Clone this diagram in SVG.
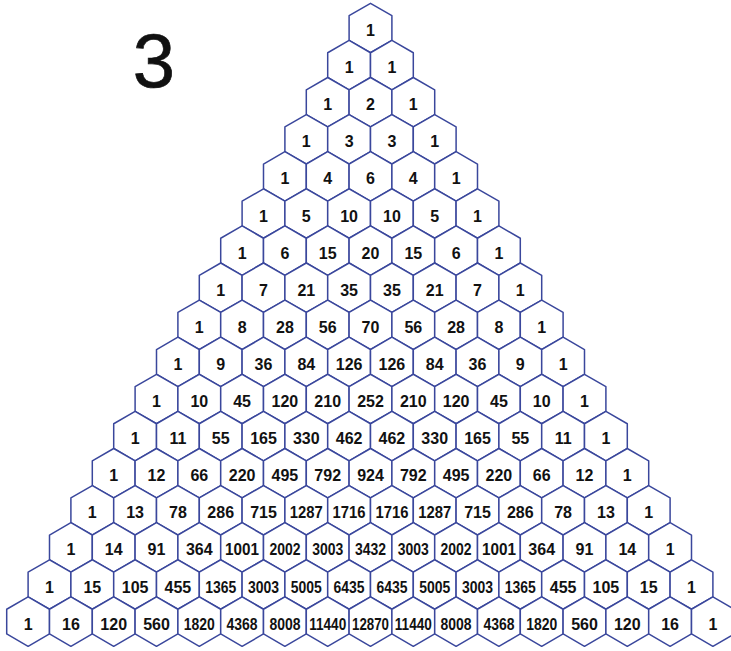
<svg xmlns="http://www.w3.org/2000/svg" xmlns:xlink="http://www.w3.org/1999/xlink" width="731" height="651" viewBox="0 0 731 651">
<style>
.hx{fill:#ffffff;stroke:#3a479c;stroke-width:1.5;stroke-linejoin:round}
text{font-family:"Liberation Sans",Arial,sans-serif;font-weight:bold;font-size:16px;text-anchor:middle;fill:#111}
text.m{font-size:16.5px}
text.s{font-size:16.5px}
text.x{font-size:16px}
text.big{font-weight:normal;font-size:76px;stroke:#111;stroke-width:0.7}
</style>
<defs>
<polygon id="h" class="hx" points="0,-24.7 21.4,-12.35 21.4,12.35 0,24.7 -21.4,12.35 -21.4,-12.35"/>
</defs>
<rect width="731" height="651" fill="#ffffff"/>
<text class="big" x="154" y="87">3</text>
<g id="connectors"></g>
<g id="nodes">
<g id="n0_0" transform="translate(370.5,28)"><use href="#h"/><text y="8">1</text></g>
<g id="n1_0" transform="translate(349.1,65.1)"><use href="#h"/><text y="8">1</text></g>
<g id="n1_1" transform="translate(391.9,65.1)"><use href="#h"/><text y="8">1</text></g>
<g id="n2_0" transform="translate(327.7,102.2)"><use href="#h"/><text y="8">1</text></g>
<g id="n2_1" transform="translate(370.5,102.2)"><use href="#h"/><text y="8">2</text></g>
<g id="n2_2" transform="translate(413.3,102.2)"><use href="#h"/><text y="8">1</text></g>
<g id="n3_0" transform="translate(306.3,139.3)"><use href="#h"/><text y="8">1</text></g>
<g id="n3_1" transform="translate(349.1,139.3)"><use href="#h"/><text y="8">3</text></g>
<g id="n3_2" transform="translate(391.9,139.3)"><use href="#h"/><text y="8">3</text></g>
<g id="n3_3" transform="translate(434.7,139.3)"><use href="#h"/><text y="8">1</text></g>
<g id="n4_0" transform="translate(284.9,176.4)"><use href="#h"/><text y="8">1</text></g>
<g id="n4_1" transform="translate(327.7,176.4)"><use href="#h"/><text y="8">4</text></g>
<g id="n4_2" transform="translate(370.5,176.4)"><use href="#h"/><text y="8">6</text></g>
<g id="n4_3" transform="translate(413.3,176.4)"><use href="#h"/><text y="8">4</text></g>
<g id="n4_4" transform="translate(456.1,176.4)"><use href="#h"/><text y="8">1</text></g>
<g id="n5_0" transform="translate(263.5,213.5)"><use href="#h"/><text y="8">1</text></g>
<g id="n5_1" transform="translate(306.3,213.5)"><use href="#h"/><text y="8">5</text></g>
<g id="n5_2" transform="translate(349.1,213.5)"><use href="#h"/><text y="8">10</text></g>
<g id="n5_3" transform="translate(391.9,213.5)"><use href="#h"/><text y="8">10</text></g>
<g id="n5_4" transform="translate(434.7,213.5)"><use href="#h"/><text y="8">5</text></g>
<g id="n5_5" transform="translate(477.5,213.5)"><use href="#h"/><text y="8">1</text></g>
<g id="n6_0" transform="translate(242.1,250.6)"><use href="#h"/><text y="8">1</text></g>
<g id="n6_1" transform="translate(284.9,250.6)"><use href="#h"/><text y="8">6</text></g>
<g id="n6_2" transform="translate(327.7,250.6)"><use href="#h"/><text y="8">15</text></g>
<g id="n6_3" transform="translate(370.5,250.6)"><use href="#h"/><text y="8">20</text></g>
<g id="n6_4" transform="translate(413.3,250.6)"><use href="#h"/><text y="8">15</text></g>
<g id="n6_5" transform="translate(456.1,250.6)"><use href="#h"/><text y="8">6</text></g>
<g id="n6_6" transform="translate(498.9,250.6)"><use href="#h"/><text y="8">1</text></g>
<g id="n7_0" transform="translate(220.7,287.7)"><use href="#h"/><text y="8">1</text></g>
<g id="n7_1" transform="translate(263.5,287.7)"><use href="#h"/><text y="8">7</text></g>
<g id="n7_2" transform="translate(306.3,287.7)"><use href="#h"/><text y="8">21</text></g>
<g id="n7_3" transform="translate(349.1,287.7)"><use href="#h"/><text y="8">35</text></g>
<g id="n7_4" transform="translate(391.9,287.7)"><use href="#h"/><text y="8">35</text></g>
<g id="n7_5" transform="translate(434.7,287.7)"><use href="#h"/><text y="8">21</text></g>
<g id="n7_6" transform="translate(477.5,287.7)"><use href="#h"/><text y="8">7</text></g>
<g id="n7_7" transform="translate(520.3,287.7)"><use href="#h"/><text y="8">1</text></g>
<g id="n8_0" transform="translate(199.3,324.8)"><use href="#h"/><text y="8">1</text></g>
<g id="n8_1" transform="translate(242.1,324.8)"><use href="#h"/><text y="8">8</text></g>
<g id="n8_2" transform="translate(284.9,324.8)"><use href="#h"/><text y="8">28</text></g>
<g id="n8_3" transform="translate(327.7,324.8)"><use href="#h"/><text y="8">56</text></g>
<g id="n8_4" transform="translate(370.5,324.8)"><use href="#h"/><text y="8">70</text></g>
<g id="n8_5" transform="translate(413.3,324.8)"><use href="#h"/><text y="8">56</text></g>
<g id="n8_6" transform="translate(456.1,324.8)"><use href="#h"/><text y="8">28</text></g>
<g id="n8_7" transform="translate(498.9,324.8)"><use href="#h"/><text y="8">8</text></g>
<g id="n8_8" transform="translate(541.7,324.8)"><use href="#h"/><text y="8">1</text></g>
<g id="n9_0" transform="translate(177.9,361.9)"><use href="#h"/><text y="8">1</text></g>
<g id="n9_1" transform="translate(220.7,361.9)"><use href="#h"/><text y="8">9</text></g>
<g id="n9_2" transform="translate(263.5,361.9)"><use href="#h"/><text y="8">36</text></g>
<g id="n9_3" transform="translate(306.3,361.9)"><use href="#h"/><text y="8">84</text></g>
<g id="n9_4" transform="translate(349.1,361.9)"><use href="#h"/><text y="8">126</text></g>
<g id="n9_5" transform="translate(391.9,361.9)"><use href="#h"/><text y="8">126</text></g>
<g id="n9_6" transform="translate(434.7,361.9)"><use href="#h"/><text y="8">84</text></g>
<g id="n9_7" transform="translate(477.5,361.9)"><use href="#h"/><text y="8">36</text></g>
<g id="n9_8" transform="translate(520.3,361.9)"><use href="#h"/><text y="8">9</text></g>
<g id="n9_9" transform="translate(563.1,361.9)"><use href="#h"/><text y="8">1</text></g>
<g id="n10_0" transform="translate(156.5,399)"><use href="#h"/><text y="8">1</text></g>
<g id="n10_1" transform="translate(199.3,399)"><use href="#h"/><text y="8">10</text></g>
<g id="n10_2" transform="translate(242.1,399)"><use href="#h"/><text y="8">45</text></g>
<g id="n10_3" transform="translate(284.9,399)"><use href="#h"/><text y="8">120</text></g>
<g id="n10_4" transform="translate(327.7,399)"><use href="#h"/><text y="8">210</text></g>
<g id="n10_5" transform="translate(370.5,399)"><use href="#h"/><text y="8">252</text></g>
<g id="n10_6" transform="translate(413.3,399)"><use href="#h"/><text y="8">210</text></g>
<g id="n10_7" transform="translate(456.1,399)"><use href="#h"/><text y="8">120</text></g>
<g id="n10_8" transform="translate(498.9,399)"><use href="#h"/><text y="8">45</text></g>
<g id="n10_9" transform="translate(541.7,399)"><use href="#h"/><text y="8">10</text></g>
<g id="n10_10" transform="translate(584.5,399)"><use href="#h"/><text y="8">1</text></g>
<g id="n11_0" transform="translate(135.1,436.1)"><use href="#h"/><text y="8">1</text></g>
<g id="n11_1" transform="translate(177.9,436.1)"><use href="#h"/><text y="8">11</text></g>
<g id="n11_2" transform="translate(220.7,436.1)"><use href="#h"/><text y="8">55</text></g>
<g id="n11_3" transform="translate(263.5,436.1)"><use href="#h"/><text y="8">165</text></g>
<g id="n11_4" transform="translate(306.3,436.1)"><use href="#h"/><text y="8">330</text></g>
<g id="n11_5" transform="translate(349.1,436.1)"><use href="#h"/><text y="8">462</text></g>
<g id="n11_6" transform="translate(391.9,436.1)"><use href="#h"/><text y="8">462</text></g>
<g id="n11_7" transform="translate(434.7,436.1)"><use href="#h"/><text y="8">330</text></g>
<g id="n11_8" transform="translate(477.5,436.1)"><use href="#h"/><text y="8">165</text></g>
<g id="n11_9" transform="translate(520.3,436.1)"><use href="#h"/><text y="8">55</text></g>
<g id="n11_10" transform="translate(563.1,436.1)"><use href="#h"/><text y="8">11</text></g>
<g id="n11_11" transform="translate(605.9,436.1)"><use href="#h"/><text y="8">1</text></g>
<g id="n12_0" transform="translate(113.7,473.2)"><use href="#h"/><text y="8">1</text></g>
<g id="n12_1" transform="translate(156.5,473.2)"><use href="#h"/><text y="8">12</text></g>
<g id="n12_2" transform="translate(199.3,473.2)"><use href="#h"/><text y="8">66</text></g>
<g id="n12_3" transform="translate(242.1,473.2)"><use href="#h"/><text y="8">220</text></g>
<g id="n12_4" transform="translate(284.9,473.2)"><use href="#h"/><text y="8">495</text></g>
<g id="n12_5" transform="translate(327.7,473.2)"><use href="#h"/><text y="8">792</text></g>
<g id="n12_6" transform="translate(370.5,473.2)"><use href="#h"/><text y="8">924</text></g>
<g id="n12_7" transform="translate(413.3,473.2)"><use href="#h"/><text y="8">792</text></g>
<g id="n12_8" transform="translate(456.1,473.2)"><use href="#h"/><text y="8">495</text></g>
<g id="n12_9" transform="translate(498.9,473.2)"><use href="#h"/><text y="8">220</text></g>
<g id="n12_10" transform="translate(541.7,473.2)"><use href="#h"/><text y="8">66</text></g>
<g id="n12_11" transform="translate(584.5,473.2)"><use href="#h"/><text y="8">12</text></g>
<g id="n12_12" transform="translate(627.3,473.2)"><use href="#h"/><text y="8">1</text></g>
<g id="n13_0" transform="translate(92.3,510.3)"><use href="#h"/><text y="8">1</text></g>
<g id="n13_1" transform="translate(135.1,510.3)"><use href="#h"/><text y="8">13</text></g>
<g id="n13_2" transform="translate(177.9,510.3)"><use href="#h"/><text y="8">78</text></g>
<g id="n13_3" transform="translate(220.7,510.3)"><use href="#h"/><text y="8">286</text></g>
<g id="n13_4" transform="translate(263.5,510.3)"><use href="#h"/><text y="8">715</text></g>
<g id="n13_5" transform="translate(306.3,510.3)"><use href="#h"/><text class="m" y="8" textLength="33" lengthAdjust="spacingAndGlyphs">1287</text></g>
<g id="n13_6" transform="translate(349.1,510.3)"><use href="#h"/><text class="m" y="8" textLength="33" lengthAdjust="spacingAndGlyphs">1716</text></g>
<g id="n13_7" transform="translate(391.9,510.3)"><use href="#h"/><text class="m" y="8" textLength="33" lengthAdjust="spacingAndGlyphs">1716</text></g>
<g id="n13_8" transform="translate(434.7,510.3)"><use href="#h"/><text class="m" y="8" textLength="33" lengthAdjust="spacingAndGlyphs">1287</text></g>
<g id="n13_9" transform="translate(477.5,510.3)"><use href="#h"/><text y="8">715</text></g>
<g id="n13_10" transform="translate(520.3,510.3)"><use href="#h"/><text y="8">286</text></g>
<g id="n13_11" transform="translate(563.1,510.3)"><use href="#h"/><text y="8">78</text></g>
<g id="n13_12" transform="translate(605.9,510.3)"><use href="#h"/><text y="8">13</text></g>
<g id="n13_13" transform="translate(648.7,510.3)"><use href="#h"/><text y="8">1</text></g>
<g id="n14_0" transform="translate(70.9,547.4)"><use href="#h"/><text y="8">1</text></g>
<g id="n14_1" transform="translate(113.7,547.4)"><use href="#h"/><text y="8">14</text></g>
<g id="n14_2" transform="translate(156.5,547.4)"><use href="#h"/><text y="8">91</text></g>
<g id="n14_3" transform="translate(199.3,547.4)"><use href="#h"/><text y="8">364</text></g>
<g id="n14_4" transform="translate(242.1,547.4)"><use href="#h"/><text class="m" y="8" textLength="34" lengthAdjust="spacingAndGlyphs">1001</text></g>
<g id="n14_5" transform="translate(284.9,547.4)"><use href="#h"/><text class="s" y="8" textLength="31" lengthAdjust="spacingAndGlyphs">2002</text></g>
<g id="n14_6" transform="translate(327.7,547.4)"><use href="#h"/><text class="s" y="8" textLength="31" lengthAdjust="spacingAndGlyphs">3003</text></g>
<g id="n14_7" transform="translate(370.5,547.4)"><use href="#h"/><text class="s" y="8" textLength="31" lengthAdjust="spacingAndGlyphs">3432</text></g>
<g id="n14_8" transform="translate(413.3,547.4)"><use href="#h"/><text class="s" y="8" textLength="31" lengthAdjust="spacingAndGlyphs">3003</text></g>
<g id="n14_9" transform="translate(456.1,547.4)"><use href="#h"/><text class="s" y="8" textLength="31" lengthAdjust="spacingAndGlyphs">2002</text></g>
<g id="n14_10" transform="translate(498.9,547.4)"><use href="#h"/><text class="m" y="8" textLength="34" lengthAdjust="spacingAndGlyphs">1001</text></g>
<g id="n14_11" transform="translate(541.7,547.4)"><use href="#h"/><text y="8">364</text></g>
<g id="n14_12" transform="translate(584.5,547.4)"><use href="#h"/><text y="8">91</text></g>
<g id="n14_13" transform="translate(627.3,547.4)"><use href="#h"/><text y="8">14</text></g>
<g id="n14_14" transform="translate(670.1,547.4)"><use href="#h"/><text y="8">1</text></g>
<g id="n15_0" transform="translate(49.5,584.5)"><use href="#h"/><text y="8">1</text></g>
<g id="n15_1" transform="translate(92.3,584.5)"><use href="#h"/><text y="8">15</text></g>
<g id="n15_2" transform="translate(135.1,584.5)"><use href="#h"/><text y="8">105</text></g>
<g id="n15_3" transform="translate(177.9,584.5)"><use href="#h"/><text y="8">455</text></g>
<g id="n15_4" transform="translate(220.7,584.5)"><use href="#h"/><text class="s" y="8" textLength="31" lengthAdjust="spacingAndGlyphs">1365</text></g>
<g id="n15_5" transform="translate(263.5,584.5)"><use href="#h"/><text class="s" y="8" textLength="31" lengthAdjust="spacingAndGlyphs">3003</text></g>
<g id="n15_6" transform="translate(306.3,584.5)"><use href="#h"/><text class="s" y="8" textLength="31" lengthAdjust="spacingAndGlyphs">5005</text></g>
<g id="n15_7" transform="translate(349.1,584.5)"><use href="#h"/><text class="s" y="8" textLength="31" lengthAdjust="spacingAndGlyphs">6435</text></g>
<g id="n15_8" transform="translate(391.9,584.5)"><use href="#h"/><text class="s" y="8" textLength="31" lengthAdjust="spacingAndGlyphs">6435</text></g>
<g id="n15_9" transform="translate(434.7,584.5)"><use href="#h"/><text class="s" y="8" textLength="31" lengthAdjust="spacingAndGlyphs">5005</text></g>
<g id="n15_10" transform="translate(477.5,584.5)"><use href="#h"/><text class="s" y="8" textLength="31" lengthAdjust="spacingAndGlyphs">3003</text></g>
<g id="n15_11" transform="translate(520.3,584.5)"><use href="#h"/><text class="s" y="8" textLength="31" lengthAdjust="spacingAndGlyphs">1365</text></g>
<g id="n15_12" transform="translate(563.1,584.5)"><use href="#h"/><text y="8">455</text></g>
<g id="n15_13" transform="translate(605.9,584.5)"><use href="#h"/><text y="8">105</text></g>
<g id="n15_14" transform="translate(648.7,584.5)"><use href="#h"/><text y="8">15</text></g>
<g id="n15_15" transform="translate(691.5,584.5)"><use href="#h"/><text y="8">1</text></g>
<g id="n16_0" transform="translate(28.1,621.6)"><use href="#h"/><text y="8">1</text></g>
<g id="n16_1" transform="translate(70.9,621.6)"><use href="#h"/><text y="8">16</text></g>
<g id="n16_2" transform="translate(113.7,621.6)"><use href="#h"/><text y="8">120</text></g>
<g id="n16_3" transform="translate(156.5,621.6)"><use href="#h"/><text y="8">560</text></g>
<g id="n16_4" transform="translate(199.3,621.6)"><use href="#h"/><text class="s" y="8" textLength="31" lengthAdjust="spacingAndGlyphs">1820</text></g>
<g id="n16_5" transform="translate(242.1,621.6)"><use href="#h"/><text class="s" y="8" textLength="31" lengthAdjust="spacingAndGlyphs">4368</text></g>
<g id="n16_6" transform="translate(284.9,621.6)"><use href="#h"/><text class="s" y="8" textLength="31" lengthAdjust="spacingAndGlyphs">8008</text></g>
<g id="n16_7" transform="translate(327.7,621.6)"><use href="#h"/><text class="x" y="8" textLength="37" lengthAdjust="spacingAndGlyphs">11440</text></g>
<g id="n16_8" transform="translate(370.5,621.6)"><use href="#h"/><text class="x" y="8" textLength="37" lengthAdjust="spacingAndGlyphs">12870</text></g>
<g id="n16_9" transform="translate(413.3,621.6)"><use href="#h"/><text class="x" y="8" textLength="37" lengthAdjust="spacingAndGlyphs">11440</text></g>
<g id="n16_10" transform="translate(456.1,621.6)"><use href="#h"/><text class="s" y="8" textLength="31" lengthAdjust="spacingAndGlyphs">8008</text></g>
<g id="n16_11" transform="translate(498.9,621.6)"><use href="#h"/><text class="s" y="8" textLength="31" lengthAdjust="spacingAndGlyphs">4368</text></g>
<g id="n16_12" transform="translate(541.7,621.6)"><use href="#h"/><text class="s" y="8" textLength="31" lengthAdjust="spacingAndGlyphs">1820</text></g>
<g id="n16_13" transform="translate(584.5,621.6)"><use href="#h"/><text y="8">560</text></g>
<g id="n16_14" transform="translate(627.3,621.6)"><use href="#h"/><text y="8">120</text></g>
<g id="n16_15" transform="translate(670.1,621.6)"><use href="#h"/><text y="8">16</text></g>
<g id="n16_16" transform="translate(712.9,621.6)"><use href="#h"/><text y="8">1</text></g>
</g>
</svg>
